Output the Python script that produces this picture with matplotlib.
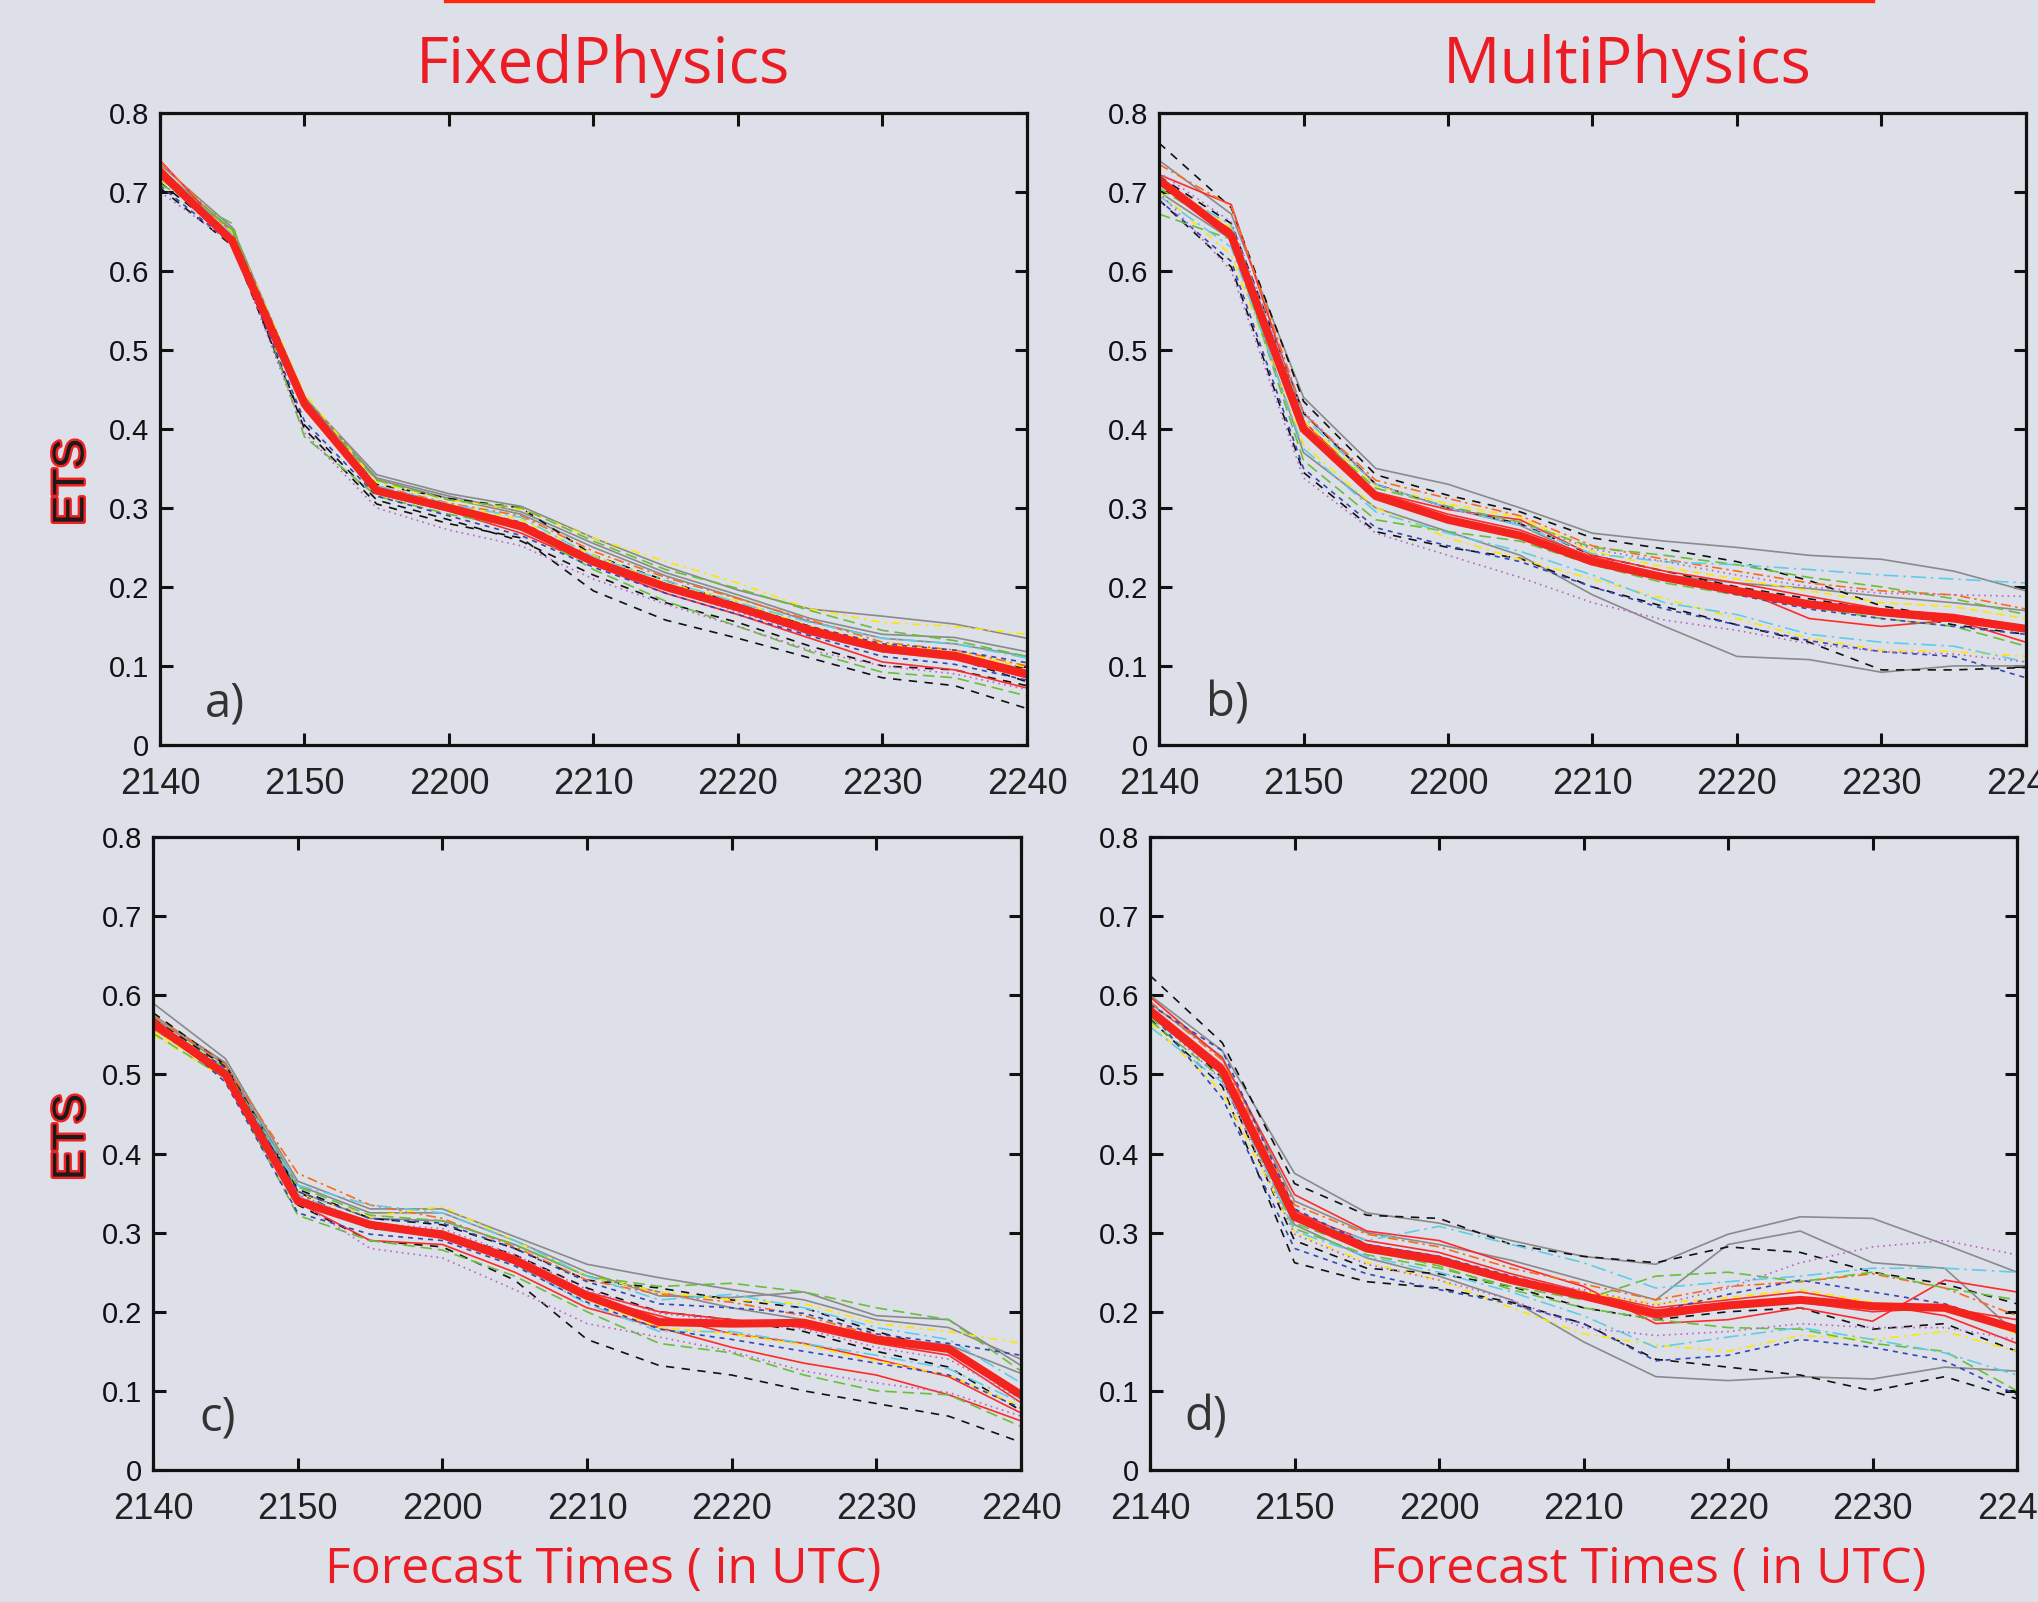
import matplotlib
matplotlib.use('Agg')
import matplotlib.pyplot as plt
import matplotlib.patheffects as pe
import numpy as np

# forecast minutes after 2140 UTC (every 5 min)
minutes = [0, 5, 10, 15, 20, 25, 30, 35, 40, 45, 50, 55, 60]
tick_pos = [0, 10, 20, 30, 40, 50, 60]
tick_lab = ['2140', '2150', '2200', '2210', '2220', '2230', '2240']
yticks = [0, 0.1, 0.2, 0.3, 0.4, 0.5, 0.6, 0.7, 0.8]
ytick_lab = ['0', '0.1', '0.2', '0.3', '0.4', '0.5', '0.6', '0.7', '0.8']

# ensemble means (thick red)
mean_a = [0.725, 0.638, 0.432, 0.322, 0.300, 0.277, 0.232, 0.200, 0.174, 0.145, 0.122, 0.113, 0.090]
mean_b = [0.715, 0.645, 0.400, 0.315, 0.285, 0.265, 0.232, 0.212, 0.195, 0.178, 0.168, 0.160, 0.147]
mean_c = [0.565, 0.500, 0.340, 0.310, 0.297, 0.265, 0.220, 0.187, 0.185, 0.186, 0.165, 0.153, 0.095]
mean_d = [0.580, 0.505, 0.320, 0.280, 0.265, 0.240, 0.220, 0.198, 0.208, 0.215, 0.207, 0.205, 0.178]

# members, order: gray x3, black x3, red x3, orange, yellow x2, green x2, cyan x2, blue x2, purple x2
ens_a = [
    [0.735, 0.655, 0.440, 0.342, 0.318, 0.302, 0.262, 0.226, 0.196, 0.172, 0.163, 0.153, 0.135],
    [0.730, 0.650, 0.438, 0.338, 0.315, 0.295, 0.255, 0.218, 0.190, 0.160, 0.140, 0.136, 0.118],
    [0.728, 0.652, 0.440, 0.336, 0.312, 0.292, 0.250, 0.214, 0.186, 0.156, 0.135, 0.128, 0.112],
    [0.712, 0.640, 0.400, 0.305, 0.280, 0.262, 0.195, 0.158, 0.135, 0.110, 0.085, 0.075, 0.046],
    [0.705, 0.632, 0.405, 0.310, 0.285, 0.258, 0.215, 0.180, 0.155, 0.125, 0.100, 0.095, 0.075],
    [0.722, 0.645, 0.430, 0.330, 0.312, 0.300, 0.240, 0.208, 0.178, 0.150, 0.125, 0.110, 0.080],
    [0.740, 0.642, 0.425, 0.318, 0.296, 0.268, 0.228, 0.192, 0.165, 0.135, 0.105, 0.095, 0.072],
    [0.728, 0.636, 0.430, 0.320, 0.300, 0.272, 0.230, 0.198, 0.172, 0.140, 0.118, 0.108, 0.085],
    [0.732, 0.638, 0.432, 0.322, 0.302, 0.275, 0.232, 0.200, 0.176, 0.146, 0.124, 0.112, 0.092],
    [0.738, 0.648, 0.436, 0.328, 0.306, 0.290, 0.245, 0.212, 0.185, 0.158, 0.130, 0.120, 0.100],
    [0.715, 0.650, 0.445, 0.332, 0.310, 0.298, 0.262, 0.232, 0.205, 0.172, 0.155, 0.150, 0.140],
    [0.720, 0.638, 0.428, 0.325, 0.305, 0.285, 0.240, 0.205, 0.182, 0.150, 0.128, 0.118, 0.098],
    [0.710, 0.660, 0.390, 0.315, 0.292, 0.275, 0.222, 0.182, 0.150, 0.118, 0.092, 0.085, 0.062],
    [0.725, 0.652, 0.435, 0.335, 0.310, 0.300, 0.258, 0.222, 0.198, 0.170, 0.145, 0.132, 0.112],
    [0.718, 0.642, 0.438, 0.328, 0.305, 0.288, 0.238, 0.208, 0.180, 0.155, 0.135, 0.128, 0.110],
    [0.730, 0.646, 0.432, 0.324, 0.300, 0.280, 0.232, 0.200, 0.172, 0.145, 0.125, 0.115, 0.095],
    [0.708, 0.634, 0.410, 0.315, 0.290, 0.265, 0.225, 0.192, 0.165, 0.138, 0.112, 0.102, 0.082],
    [0.722, 0.640, 0.428, 0.322, 0.302, 0.282, 0.236, 0.204, 0.178, 0.150, 0.128, 0.120, 0.104],
    [0.700, 0.635, 0.395, 0.300, 0.272, 0.252, 0.210, 0.178, 0.150, 0.120, 0.100, 0.090, 0.070],
    [0.726, 0.640, 0.426, 0.320, 0.298, 0.276, 0.230, 0.198, 0.168, 0.140, 0.118, 0.110, 0.088],
]
ens_b = [
    [0.740, 0.672, 0.440, 0.350, 0.330, 0.300, 0.268, 0.258, 0.250, 0.240, 0.235, 0.220, 0.195],
    [0.700, 0.640, 0.370, 0.300, 0.270, 0.240, 0.190, 0.150, 0.112, 0.108, 0.092, 0.100, 0.100],
    [0.710, 0.648, 0.420, 0.330, 0.300, 0.278, 0.235, 0.215, 0.205, 0.198, 0.188, 0.180, 0.170],
    [0.762, 0.680, 0.435, 0.342, 0.316, 0.295, 0.262, 0.248, 0.232, 0.208, 0.176, 0.160, 0.150],
    [0.690, 0.605, 0.345, 0.270, 0.250, 0.236, 0.200, 0.175, 0.152, 0.130, 0.095, 0.095, 0.098],
    [0.720, 0.660, 0.420, 0.330, 0.300, 0.280, 0.240, 0.220, 0.200, 0.185, 0.170, 0.152, 0.140],
    [0.722, 0.684, 0.410, 0.320, 0.292, 0.272, 0.238, 0.215, 0.198, 0.160, 0.150, 0.158, 0.130],
    [0.710, 0.652, 0.395, 0.320, 0.298, 0.285, 0.240, 0.220, 0.205, 0.188, 0.172, 0.165, 0.150],
    [0.718, 0.648, 0.402, 0.318, 0.288, 0.268, 0.235, 0.215, 0.198, 0.180, 0.170, 0.162, 0.150],
    [0.735, 0.682, 0.420, 0.335, 0.312, 0.290, 0.252, 0.235, 0.220, 0.205, 0.195, 0.190, 0.172],
    [0.700, 0.620, 0.380, 0.300, 0.262, 0.235, 0.210, 0.185, 0.160, 0.135, 0.120, 0.118, 0.112],
    [0.715, 0.655, 0.410, 0.328, 0.305, 0.288, 0.245, 0.225, 0.210, 0.195, 0.180, 0.175, 0.160],
    [0.672, 0.640, 0.360, 0.285, 0.270, 0.258, 0.228, 0.205, 0.190, 0.175, 0.160, 0.150, 0.125],
    [0.705, 0.648, 0.405, 0.325, 0.302, 0.282, 0.250, 0.240, 0.228, 0.212, 0.200, 0.185, 0.165],
    [0.712, 0.658, 0.415, 0.330, 0.300, 0.278, 0.242, 0.232, 0.228, 0.222, 0.215, 0.210, 0.205],
    [0.695, 0.630, 0.375, 0.295, 0.268, 0.245, 0.215, 0.180, 0.165, 0.140, 0.130, 0.125, 0.105],
    [0.690, 0.612, 0.350, 0.275, 0.252, 0.232, 0.200, 0.172, 0.152, 0.132, 0.118, 0.112, 0.085],
    [0.718, 0.648, 0.400, 0.312, 0.285, 0.262, 0.230, 0.210, 0.190, 0.172, 0.160, 0.150, 0.140],
    [0.700, 0.600, 0.338, 0.268, 0.240, 0.212, 0.180, 0.158, 0.145, 0.128, 0.118, 0.115, 0.105],
    [0.725, 0.662, 0.422, 0.330, 0.300, 0.280, 0.248, 0.232, 0.215, 0.200, 0.192, 0.190, 0.188],
]
ens_c = [
    [0.590, 0.520, 0.365, 0.330, 0.330, 0.295, 0.260, 0.243, 0.228, 0.215, 0.190, 0.180, 0.140],
    [0.575, 0.515, 0.360, 0.325, 0.325, 0.290, 0.250, 0.220, 0.218, 0.225, 0.195, 0.190, 0.132],
    [0.572, 0.512, 0.352, 0.318, 0.315, 0.285, 0.245, 0.225, 0.205, 0.190, 0.168, 0.158, 0.122],
    [0.565, 0.505, 0.335, 0.290, 0.282, 0.240, 0.165, 0.132, 0.120, 0.100, 0.084, 0.068, 0.035],
    [0.570, 0.510, 0.352, 0.305, 0.300, 0.272, 0.230, 0.200, 0.190, 0.175, 0.150, 0.130, 0.075],
    [0.578, 0.512, 0.355, 0.318, 0.310, 0.280, 0.240, 0.230, 0.215, 0.205, 0.175, 0.150, 0.090],
    [0.560, 0.500, 0.338, 0.290, 0.285, 0.250, 0.205, 0.180, 0.155, 0.135, 0.120, 0.095, 0.062],
    [0.558, 0.498, 0.345, 0.312, 0.302, 0.270, 0.225, 0.200, 0.190, 0.180, 0.160, 0.145, 0.085],
    [0.568, 0.502, 0.340, 0.308, 0.296, 0.268, 0.218, 0.195, 0.172, 0.160, 0.140, 0.118, 0.072],
    [0.575, 0.512, 0.375, 0.335, 0.318, 0.282, 0.240, 0.222, 0.212, 0.195, 0.170, 0.155, 0.098],
    [0.550, 0.495, 0.350, 0.320, 0.333, 0.290, 0.245, 0.225, 0.215, 0.210, 0.185, 0.175, 0.160],
    [0.555, 0.500, 0.342, 0.310, 0.298, 0.262, 0.215, 0.180, 0.172, 0.158, 0.138, 0.120, 0.080],
    [0.552, 0.495, 0.322, 0.290, 0.278, 0.245, 0.200, 0.160, 0.148, 0.120, 0.100, 0.095, 0.055],
    [0.568, 0.508, 0.358, 0.322, 0.315, 0.285, 0.245, 0.232, 0.236, 0.225, 0.205, 0.190, 0.125],
    [0.562, 0.505, 0.360, 0.335, 0.325, 0.290, 0.245, 0.215, 0.222, 0.205, 0.180, 0.165, 0.110],
    [0.565, 0.502, 0.348, 0.310, 0.298, 0.260, 0.210, 0.175, 0.175, 0.160, 0.145, 0.128, 0.085],
    [0.572, 0.490, 0.325, 0.298, 0.290, 0.258, 0.212, 0.178, 0.165, 0.150, 0.135, 0.120, 0.078],
    [0.566, 0.508, 0.352, 0.318, 0.312, 0.280, 0.238, 0.210, 0.205, 0.198, 0.172, 0.160, 0.145],
    [0.558, 0.500, 0.340, 0.280, 0.268, 0.228, 0.185, 0.168, 0.150, 0.125, 0.110, 0.098, 0.068],
    [0.562, 0.505, 0.348, 0.312, 0.305, 0.272, 0.228, 0.198, 0.188, 0.178, 0.155, 0.140, 0.090],
]
ens_d = [
    [0.600, 0.530, 0.375, 0.325, 0.312, 0.290, 0.270, 0.260, 0.298, 0.320, 0.318, 0.285, 0.250],
    [0.590, 0.522, 0.340, 0.300, 0.285, 0.265, 0.240, 0.215, 0.285, 0.302, 0.262, 0.255, 0.172],
    [0.575, 0.500, 0.310, 0.268, 0.245, 0.215, 0.162, 0.118, 0.113, 0.118, 0.115, 0.130, 0.125],
    [0.625, 0.540, 0.362, 0.322, 0.318, 0.285, 0.270, 0.262, 0.282, 0.275, 0.250, 0.235, 0.210],
    [0.570, 0.485, 0.262, 0.238, 0.230, 0.212, 0.185, 0.140, 0.130, 0.120, 0.100, 0.118, 0.090],
    [0.585, 0.495, 0.290, 0.255, 0.248, 0.232, 0.205, 0.190, 0.200, 0.205, 0.178, 0.185, 0.150],
    [0.598, 0.520, 0.348, 0.302, 0.290, 0.260, 0.232, 0.185, 0.190, 0.205, 0.188, 0.240, 0.225],
    [0.582, 0.510, 0.325, 0.290, 0.275, 0.248, 0.225, 0.205, 0.215, 0.225, 0.210, 0.195, 0.160],
    [0.586, 0.512, 0.328, 0.285, 0.270, 0.242, 0.218, 0.192, 0.205, 0.212, 0.200, 0.205, 0.190],
    [0.592, 0.518, 0.335, 0.298, 0.282, 0.255, 0.235, 0.215, 0.232, 0.238, 0.248, 0.230, 0.195],
    [0.565, 0.478, 0.300, 0.262, 0.240, 0.205, 0.172, 0.158, 0.150, 0.170, 0.165, 0.175, 0.150],
    [0.578, 0.500, 0.318, 0.278, 0.262, 0.238, 0.225, 0.210, 0.218, 0.228, 0.212, 0.205, 0.172],
    [0.568, 0.495, 0.305, 0.272, 0.255, 0.232, 0.215, 0.245, 0.250, 0.238, 0.250, 0.230, 0.215],
    [0.572, 0.505, 0.312, 0.278, 0.258, 0.228, 0.205, 0.190, 0.180, 0.178, 0.160, 0.150, 0.100],
    [0.560, 0.490, 0.322, 0.290, 0.308, 0.285, 0.262, 0.230, 0.238, 0.245, 0.255, 0.255, 0.250],
    [0.575, 0.500, 0.302, 0.270, 0.250, 0.225, 0.195, 0.155, 0.168, 0.180, 0.165, 0.148, 0.120],
    [0.580, 0.470, 0.280, 0.248, 0.228, 0.210, 0.185, 0.138, 0.145, 0.165, 0.155, 0.138, 0.095],
    [0.588, 0.530, 0.330, 0.285, 0.270, 0.245, 0.222, 0.200, 0.222, 0.240, 0.225, 0.210, 0.180],
    [0.578, 0.492, 0.298, 0.260, 0.240, 0.215, 0.180, 0.170, 0.175, 0.185, 0.180, 0.180, 0.165],
    [0.582, 0.508, 0.318, 0.280, 0.270, 0.240, 0.228, 0.208, 0.230, 0.262, 0.282, 0.290, 0.272],
]

# (colour, dash pattern) per member
styles = [
    ('#8a8a8a', '-'), ('#8a8a8a', '-'), ('#8a8a8a', '-'),
    ('#111111', (0, (5, 4.5))), ('#111111', (0, (5, 4.5))), ('#111111', (0, (5, 4.5))),
    ('#ff2a2a', '-'), ('#ff2a2a', '-'), ('#ff2a2a', '-'),
    ('#ff6a1a', (0, (6, 2.5, 1.5, 2.5))),
    ('#ffe600', (0, (5, 3, 1.5, 3))), ('#ffe600', (0, (5, 3))),
    ('#6abf3a', (0, (7, 3.5))), ('#6abf3a', (0, (7, 3.5))),
    ('#5fcde8', (0, (9, 3, 1.5, 3))), ('#5fcde8', (0, (9, 3, 1.5, 3))),
    ('#3646b4', (0, (3, 3))), ('#3646b4', (0, (3, 3))),
    ('#c060c8', (0, (1, 2.5))), ('#c060c8', (0, (1, 2.5))),
]

BG = '#dde0e8'
RED = '#ec1c24'

plt.rcParams['font.family'] = ['Liberation Sans', 'DejaVu Sans']

fig = plt.figure(figsize=(20.38, 16.02), dpi=100, facecolor=BG)

boxes = [[0.0785, 0.5350, 0.4254, 0.3945],
         [0.5687, 0.5350, 0.4254, 0.3945],
         [0.0751, 0.0824, 0.4259, 0.3951],
         [0.5643, 0.0824, 0.4254, 0.3951]]
panels = [(ens_a, mean_a, 'a)'), (ens_b, mean_b, 'b)'),
          (ens_c, mean_c, 'c)'), (ens_d, mean_d, 'd)')]
labpos = [(0.052, 0.045), (0.054, 0.045), (0.053, 0.063), (0.040, 0.063)]

for box, (ens, mean, lab), lp in zip(boxes, panels, labpos):
    ax = fig.add_axes(box)
    ax.set_facecolor(BG)
    for vals, (col, ls) in zip(ens, styles):
        ax.plot(minutes, vals, color=col, linestyle=ls, lw=1.2)
    ax.plot(minutes, mean, color='#f5231e', lw=5.8, solid_joinstyle='miter')
    ax.set_xlim(0, 60)
    ax.set_ylim(0, 0.8)
    ax.set_xticks(tick_pos)
    ax.set_xticklabels(tick_lab)
    ax.set_yticks(yticks)
    ax.set_yticklabels(ytick_lab)
    ax.tick_params(direction='in', length=9, width=2.2, top=True, right=True,
                   colors='#111111')
    ax.tick_params(axis='y', labelsize=21, pad=8)
    ax.tick_params(axis='x', labelsize=26, pad=16)
    for t in ax.get_xticklabels():
        t.set_color('#222222')
    for t in ax.get_yticklabels():
        t.set_color('#111111')
    for s in ax.spines.values():
        s.set_linewidth(2.3)
        s.set_color('#111111')
    ax.text(lp[0], lp[1], lab, transform=ax.transAxes, fontsize=34,
            color='#333333', family=['Open Sans', 'DejaVu Sans'],
            ha='left', va='baseline')

# red rule along the top edge
fig.add_artist(plt.Line2D([0.2184, 0.919], [0.9992, 0.9992], color='#ff2a0a',
                          lw=2.4, transform=fig.transFigure))

# column titles
fig.text(0.2959, 0.959, 'FixedPhysics', color=RED, fontsize=46,
         family=['Open Sans', 'DejaVu Sans'], ha='center', va='center')
fig.text(0.7983, 0.959, 'MultiPhysics', color=RED, fontsize=46,
         family=['Open Sans', 'DejaVu Sans'], ha='center', va='center')

# x axis labels
fig.text(0.2959, 0.0200, 'Forecast Times ( in UTC)', color=RED, fontsize=36,
         family=['Open Sans', 'DejaVu Sans'], ha='center', va='center')
fig.text(0.8087, 0.0200, 'Forecast Times ( in UTC)', color=RED, fontsize=36,
         family=['Open Sans', 'DejaVu Sans'], ha='center', va='center')

# ETS y labels
for yy in [1 - 482 / 1602, 1 - 1137 / 1602]:
    fig.text(72 / 2038, yy, 'ETS', rotation=90, color='#1a1a1a', fontsize=32,
             ha='center', va='center',
             path_effects=[pe.withStroke(linewidth=3.5, foreground='#ee2222')])

fig.savefig('out.png', dpi=100, facecolor=BG)
